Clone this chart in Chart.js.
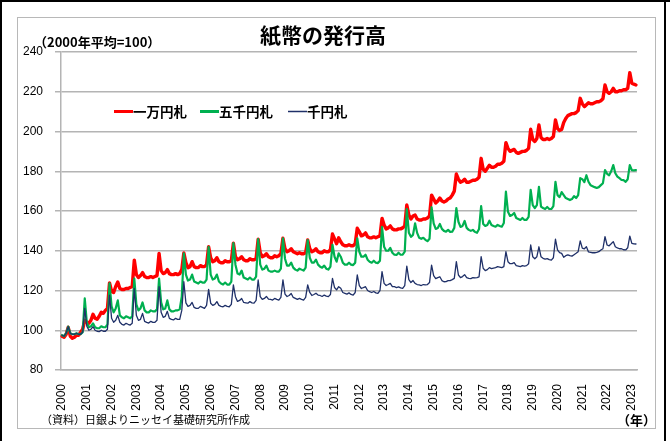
<!DOCTYPE html>
<html lang="ja">
<head>
<meta charset="utf-8">
<title>紙幣の発行高</title>
<script src="https://cdn.jsdelivr.net/npm/chart.js@4/dist/chart.umd.min.js"></script>
<style>
  html, body { margin: 0; padding: 0; background: #fff; }
  #wrap { width: 670px; height: 441px; }
</style>
</head>
<body>
<div id="wrap"><canvas id="c" width="670" height="441"></canvas></div>
<script>
// Years shown on the horizontal axis (one category per month, Jan 2000 – Mar 2023)
const years = ['2000','2001','2002','2003','2004','2005','2006','2007','2008','2009','2010','2011',
               '2012','2013','2014','2015','2016','2017','2018','2019','2020','2021','2022','2023'];
const lastYearMonths = 3;

// Series names
const seriesNames = ['一万円札', '五千円札', '千円札'];

// 一万円札 (2000年平均=100), monthly, one row per year
const yen10000 = [
  97, 96.5, 98, 101.5, 97, 96, 96.5, 97.5, 97.5, 99, 100.5, 105,
  104, 103.5, 105, 108, 106, 105.5, 107, 109, 108.5, 110, 111, 123.8,
  119.5, 119, 122, 124.3, 121, 120.5, 120.5, 121, 121, 121.5, 122, 135.3,
  128, 126.5, 127.5, 129, 127, 126.5, 126.5, 127, 126.5, 127, 127.5, 138.7,
  130, 128.5, 129, 130.5, 128.5, 128, 128, 128.5, 128, 128.5, 130.5, 138.9,
  134, 131.5, 132, 134.5, 132, 131.5, 131.5, 132.5, 132, 132, 133, 142,
  136.5, 134.5, 135, 136.5, 134.5, 134, 134, 135, 134.5, 134.5, 135, 143.8,
  137, 135.5, 136, 137, 135.5, 135, 135, 136, 135.5, 135.5, 136, 145.8,
  139, 137, 137.5, 138.5, 137, 136.5, 136.5, 137.5, 137, 137.5, 138.5, 146.3,
  141, 139.5, 140, 141, 139.5, 139, 138.5, 139, 138.5, 138.5, 139, 145.4,
  141, 139.5, 140, 141, 139.5, 139, 139, 140, 139.5, 139.5, 140.5, 148.4,
  146, 143.5, 146.5, 144.5, 143, 142.5, 142.5, 143, 142.5, 142.5, 143.5, 151.3,
  149.5, 147.5, 148, 149, 147, 146.5, 146.5, 147, 146.5, 147, 147.5, 156.3,
  153, 151, 151.5, 152.5, 151, 150.5, 150.5, 151, 151, 151.5, 152.5, 163,
  158, 156, 157.5, 158, 156, 155.5, 155.5, 156, 156, 156.5, 157.5, 168,
  166, 164, 165, 166.5, 165, 164.5, 165, 166, 166.5, 168, 170, 178.6,
  176, 174.5, 175, 176, 174.5, 174.5, 175, 175.5, 175.5, 176, 177, 186.5,
  181, 180, 181.5, 183, 182, 182, 182.5, 183.5, 183.5, 184, 185, 194.4,
  191.5, 190, 190.5, 191, 189.5, 189, 189.5, 190, 190, 190.5, 191.5, 201.1,
  196, 195, 196.5, 203.3, 197, 196, 196, 196.5, 196, 196.5, 197.5, 205.8,
  201.5, 200.5, 201, 204.5, 206.5, 208, 208.5, 209, 209, 209.5, 210.5, 216.7,
  214, 212.5, 213.5, 214.5, 214, 214, 214.5, 215, 215, 215.5, 216.5, 223.4,
  220, 219.2, 220, 221.7, 220, 220, 220.5, 220.5, 221, 221, 221.7, 229.6,
  224.3, 223.8, 223.4
];

// 五千円札
const yen5000 = [
  97.5, 97, 98.5, 101.8, 98.5, 98, 98, 98.5, 98, 98, 99, 116,
  104, 101.5, 102, 103.5, 101.5, 101, 101, 102, 101.5, 101.5, 103, 123.6,
  112, 109, 111, 115, 107.5, 106.5, 106, 107, 106.5, 106, 107, 126,
  113, 110, 111, 114, 110, 109, 109, 110, 109.5, 109.5, 110.5, 126,
  114, 110.5, 111, 115, 110.5, 109.5, 109.5, 110, 110, 110.5, 117, 138.7,
  128, 125, 125.5, 128, 124.5, 124, 123.5, 124.5, 124, 124, 125.5, 142,
  128, 125.5, 126, 128, 124.5, 123.5, 123, 124, 123, 123, 124.5, 143.8,
  133, 128.5, 128, 130, 126.5, 126, 125.5, 126.5, 125.5, 125.5, 127, 145.8,
  133, 130.5, 131, 132.5, 130, 129.5, 129.5, 130, 129.5, 129.5, 131, 146.3,
  136, 132.5, 132.5, 134, 131.5, 130.5, 130, 131, 130.5, 130, 131.5, 145.4,
  136.5, 134, 134, 135.5, 133, 132, 131.5, 132.5, 131, 130.5, 132, 143,
  137, 134.5, 138.7, 137, 134, 133, 133, 134, 133, 132.8, 134, 146.3,
  139.5, 137, 137, 138, 135.5, 134.5, 134, 135, 134, 133.8, 135, 152,
  142, 140, 140, 141.4, 139, 138, 137.9, 139, 138, 138, 139.5, 161,
  149, 147, 148, 153.8, 149, 146.5, 146, 146.5, 145.5, 144.8, 146, 161.9,
  153.8, 151, 151.5, 153.5, 151, 150, 149.6, 150.5, 149.5, 149.6, 151.5, 161.4,
  154.6, 152, 152.5, 155, 151.5, 150.5, 150, 150.5, 149.5, 149, 151, 162.5,
  153.5, 152.5, 153, 155.1, 153, 152.5, 152.1, 153, 152.5, 152.1, 154, 169.7,
  159.6, 157.5, 158, 159, 156.5, 156, 155.5, 156.5, 155.5, 155.5, 157, 170.6,
  163, 161.5, 163, 172.2, 162.2, 161.5, 161, 162, 161, 161, 162.5, 174.7,
  168, 167, 169.5, 168, 166.5, 166, 165.5, 166, 167.5, 166.5, 168, 176.5,
  176, 174.5, 178, 174.7, 173, 172.5, 172, 171.6, 172, 173, 174, 180.6,
  178.7, 178, 180, 183.1, 179, 177.3, 176.5, 175.6, 175.5, 174.7, 176, 183.1,
  180.6, 180.4, 180.6
];

// 千円札
const yen1000 = [
  97.5, 97, 98.5, 101.8, 98.5, 98, 98, 98.5, 98, 98, 99, 111,
  102, 100, 100.5, 101.8, 100, 99.5, 99.3, 100, 99.5, 99.5, 100.5, 117.7,
  106, 104, 105, 107.5, 104, 103, 102.6, 103.5, 103, 102.6, 103.5, 121.1,
  107.5, 105, 105.5, 108.5, 104.5, 104, 103.6, 104.5, 104, 104, 105, 121.9,
  109, 106.5, 107, 109.5, 106, 105.5, 105.2, 106, 105.5, 105.5, 110, 124.4,
  113.8, 112, 112.5, 114, 111.5, 111, 111, 112, 111.5, 111, 112.5, 120.6,
  113.6, 112.5, 113, 114.4, 112.5, 112, 111.8, 112.5, 112, 111.8, 113, 122.8,
  116.9, 114.5, 115, 116, 114, 113.8, 113.6, 114.4, 113.8, 113.6, 115, 125.3,
  116.9, 115.5, 116, 117, 115.7, 115.5, 115.2, 116, 115.5, 115.2, 116.5, 125.3,
  118.2, 117, 117.5, 118.5, 116.5, 116, 115.5, 116, 115.5, 115.2, 116.5, 122.8,
  119, 117.5, 118, 118.6, 117.7, 117.5, 117, 117.7, 117.2, 116.9, 118, 126.1,
  121.5, 120.3, 121.9, 121.1, 119, 118.6, 118.2, 118.8, 118, 117.7, 119, 127.8,
  122.5, 121, 121.5, 121.9, 120, 119.4, 119, 119.5, 118.8, 118.6, 120, 129.5,
  123.6, 122.5, 123, 123.6, 122, 121.9, 121.5, 121.8, 121.3, 121.1, 122.5, 132.3,
  125.5, 124, 125, 123.6, 123, 122.8, 122.5, 123, 122.8, 123, 124, 132.8,
  127.5, 126, 126.5, 126.9, 125, 124.4, 124.5, 125, 125, 125.5, 126.1, 134.5,
  127.8, 126.5, 127, 128, 126.5, 126.1, 126, 126.5, 126.3, 126.5, 126.9, 137,
  131.2, 130, 130.5, 131.5, 131, 131.3, 131.5, 132, 131.8, 131.5, 132, 139.5,
  134.5, 133.5, 133.5, 134, 132.5, 132.3, 132, 132.5, 132.3, 132.5, 133.5, 142.9,
  137, 136, 137, 142, 137, 136.2, 135.8, 136, 135.5, 135.3, 136.5, 145.8,
  140.4, 139, 138.7, 136.7, 137.5, 137.9, 137.5, 137.3, 138, 138.7, 139.5, 145,
  141.3, 141, 142, 139.4, 139.2, 139, 139, 139.2, 139.5, 140.4, 141, 147.1,
  142.9, 142.5, 143.5, 144.6, 142, 141.4, 141, 141, 140.5, 140.4, 141.5, 147.4,
  143.7, 143.5, 143.4
];

// Month categories "YYYY/MM"
const months = [];
years.forEach((y, i) => {
  const n = (i === years.length - 1) ? lastYearMonths : 12;
  for (let m = 1; m <= n; m++) months.push(y + '/' + String(m).padStart(2, '0'));
});

const colors = ['#ff0000', '#00b050', '#1f3068'];
const widths = [3.4, 2.2, 1.3];
const JP = '"Noto Sans CJK JP", "Noto Sans", sans-serif';
const LAT = '"Liberation Sans", Arial, sans-serif';
const GRID = '#b4b4b4';

// Frame, title, notes and the legend are painted on the same canvas
const decor = {
  id: 'decor',
  beforeDraw(chart) {
    const ctx = chart.ctx;
    ctx.save();
    ctx.fillStyle = '#fff';
    ctx.fillRect(0, 0, chart.width, chart.height);
    // outer black frame
    ctx.fillStyle = '#000';
    ctx.fillRect(0, 0, 670, 2);
    ctx.fillRect(0, 0, 2, 441);
    ctx.fillRect(664, 0, 2, 441);
    // inner chart box
    ctx.strokeStyle = '#b8b8b8';
    ctx.lineWidth = 1;
    ctx.strokeRect(17.5, 17.5, 638, 411);
    ctx.restore();
  },
  afterDatasetsDraw(chart) {
    const ctx = chart.ctx;
    ctx.save();
    ctx.fillStyle = '#000';
    ctx.textBaseline = 'middle';
    // title
    ctx.font = 'bold 21px ' + JP;
    ctx.textAlign = 'center';
    ctx.fillText('紙幣の発行高', 323, 35);
    // unit note
    ctx.font = 'bold 13px ' + JP;
    ctx.textAlign = 'left';
    ctx.fillText('（2000年平均=100）', 34, 42);
    // source and axis unit
    ctx.font = '11px ' + JP;
    ctx.fillText('（資料）日銀よりニッセイ基礎研究所作成', 41, 420);
    ctx.font = 'bold 13px ' + JP;
    ctx.textAlign = 'right';
    ctx.fillText('（年）', 656, 420);
    // legend
    const lx = [114, 200, 288];
    ctx.font = 'bold 13.5px ' + JP;
    ctx.textAlign = 'left';
    chart.data.datasets.forEach((ds, i) => {
      ctx.strokeStyle = ds.borderColor;
      ctx.lineWidth = i === 2 ? 1.5 : 3;
      ctx.beginPath();
      ctx.moveTo(lx[i], 111.5);
      ctx.lineTo(lx[i] + 19, 111.5);
      ctx.stroke();
      ctx.fillStyle = '#000';
      ctx.fillText(ds.label, lx[i] + 19, 112);
    });
    ctx.restore();
  }
};

const series = [yen10000, yen5000, yen1000];

new Chart(document.getElementById('c'), {
  type: 'line',
  data: {
    labels: months,
    datasets: series.map((d, i) => ({
      label: seriesNames[i],
      data: d,
      borderColor: colors[i],
      backgroundColor: colors[i],
      borderWidth: widths[i],
      pointRadius: 0,
      tension: 0,
      borderJoinStyle: 'round',
      borderCapStyle: 'round',
      order: 3 - i
    }))
  },
  options: {
    responsive: false,
    animation: false,
    devicePixelRatio: 1,
    layout: { padding: { left: 17, right: 33, top: 52, bottom: 21 } },
    plugins: { legend: { display: false }, title: { display: false }, tooltip: { enabled: false } },
    scales: {
      x: {
        type: 'category',
        offset: true,
        grid: { display: false },
        border: { display: true, color: GRID, width: 1.5 },
        ticks: {
          autoSkip: false,
          minRotation: 90,
          maxRotation: 90,
          padding: 6,
          color: '#000',
          font: { family: LAT, size: 12 },
          callback: function (v, i) {
            return (i % 12 === 0) ? months[i].slice(0, 4) : null;
          }
        },
        afterFit(scale) { scale.height = 50; }
      },
      y: {
        min: 80,
        max: 240,
        grid: { color: GRID, lineWidth: 1.5, tickLength: 6, drawTicks: true },
        border: { display: true, color: GRID, width: 1.5 },
        ticks: {
          stepSize: 20,
          padding: 12,
          color: '#000',
          font: { family: LAT, size: 12 }
        },
        afterFit(scale) { scale.width = 44; }
      }
    }
  },
  plugins: [decor]
});
</script>
</body>
</html>
